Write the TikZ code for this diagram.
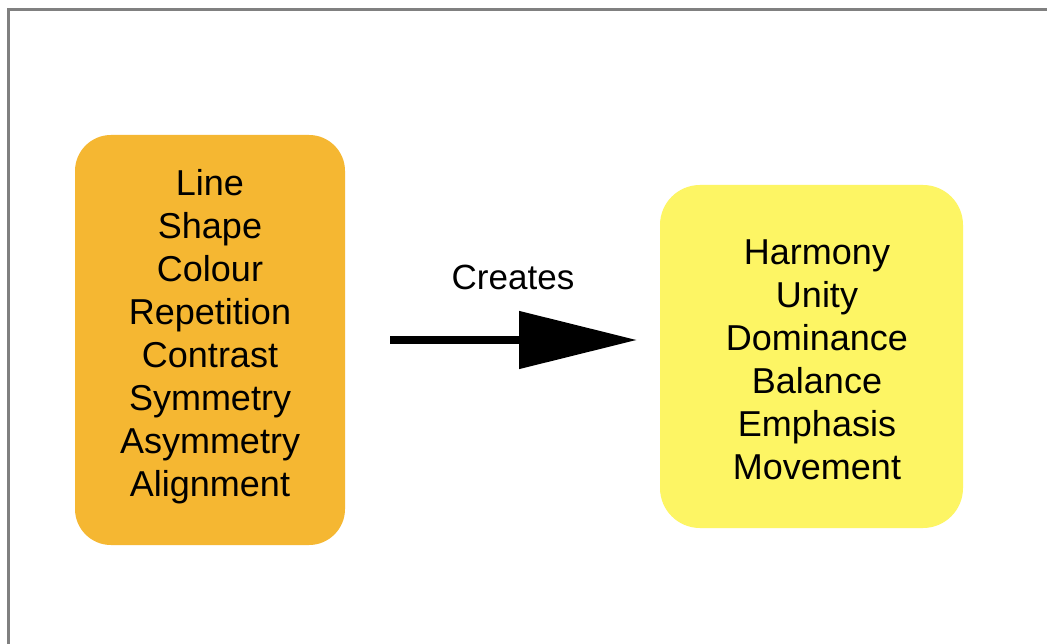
\documentclass[tikz,border=0pt]{standalone}
\usepackage{fontspec}
\setmainfont{Liberation Sans}
\usetikzlibrary{arrows.meta}
\definecolor{boxorange}{RGB}{245,183,50}
\definecolor{boxyellow}{RGB}{253,245,100}
\definecolor{framegray}{RGB}{128,128,128}
\begin{document}
\begin{tikzpicture}[x=1pt,y=-1pt,
  listtext/.style={align=center, font=\fontsize{36}{43}\selectfont, inner sep=0pt}]
\useasboundingbox (0,0) rectangle (1047,644);
\fill[white] (0,0) rectangle (1047,644);
\draw[framegray, line width=3pt] (8.5,644) -- (8.5,9.5) -- (1047,9.5);
\fill[boxorange, rounded corners=36pt] (75,135) rectangle (345,545);
\fill[boxyellow, rounded corners=40pt] (660,185) rectangle (963,528);
\node[listtext] (left) at (210,337) {Line\\Shape\\Colour\\Repetition\\Contrast\\Symmetry\\Asymmetry\\Alignment};
\node[listtext] (right) at (817,360) {Harmony\\Unity\\Dominance\\Balance\\Emphasis\\Movement};
\coordinate (a1) at (390,340);
\coordinate (a2) at (637,340);
\draw[line width=8pt, -{Triangle[length=118pt,width=56pt]}] (a1) -- (a2);
\node[font=\fontsize{35}{40}\selectfont, inner sep=0pt] (lbl) at (513,277) {Creates};
\end{tikzpicture}
\end{document}
